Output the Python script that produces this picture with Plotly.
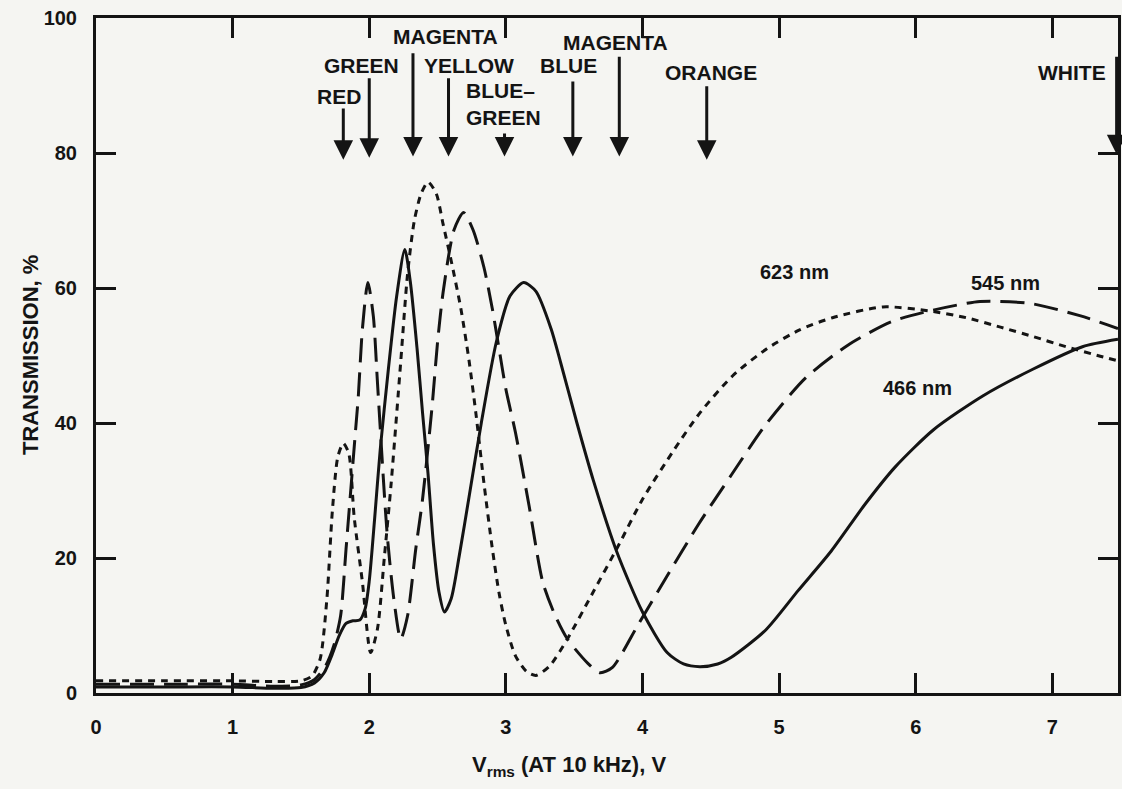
import plotly.graph_objects as go

# ---------------- data ----------------
x_623 = [0, 0.5, 1.0, 1.3, 1.5, 1.58, 1.64, 1.69, 1.73, 1.77, 1.81, 1.85, 1.89, 1.95, 2.01,
         2.06, 2.11, 2.16, 2.23, 2.28, 2.33, 2.38, 2.43, 2.49, 2.54, 2.6, 2.67, 2.73, 2.78,
         2.84, 2.9, 2.95, 3.0, 3.07, 3.15, 3.22, 3.32, 3.45, 3.64, 3.82, 4.0, 4.23, 4.42,
         4.66, 4.91, 5.15, 5.39, 5.76, 6.1, 6.37, 6.62, 6.86, 7.1, 7.35, 7.48]
y_623 = [1.8, 1.8, 1.8, 1.7, 1.8, 2.5, 5, 14, 27, 35, 37, 35.5, 26, 16.4, 6,
         9.5, 20, 31, 49, 62, 70, 74, 75.7, 74, 69.5, 64, 57, 49.3, 41.5,
         31, 21.5, 14.8, 10, 5.5, 3.2, 2.6, 4, 8, 15, 21.7, 28.7, 36, 41.5,
         47, 51, 53.8, 55.6, 57.2, 56.6, 55.6, 54.2, 52.8, 51.3, 49.9, 49.2]

x_545 = [0, 0.5, 1.0, 1.3, 1.5, 1.6, 1.68, 1.74, 1.79, 1.83, 1.9, 1.92, 1.95, 1.99, 2.03,
         2.06, 2.13, 2.18, 2.23, 2.28, 2.34, 2.39, 2.46, 2.5, 2.54, 2.62, 2.69, 2.76, 2.84,
         2.9, 2.95, 3.0, 3.07, 3.17, 3.27, 3.36, 3.45, 3.6, 3.69, 3.78, 3.97, 4.17, 4.41,
         4.65, 4.9, 5.19, 5.5, 5.82, 6.1, 6.47, 6.84, 7.2, 7.48]
y_545 = [1.3, 1.3, 1.3, 1.0, 1.2, 2, 4, 7, 11.4, 21.3, 39, 44, 54, 60.8, 55.8,
         46, 23.8, 13.9, 8, 11.4, 21.3, 28.7, 42.5, 52, 59.3, 68.6, 71.2, 68.6, 63,
         57, 51, 45, 38.6, 27.7, 16.4, 11.5, 8, 4.4, 3.0, 3.8, 10.2, 17, 25,
         32.3, 39.7, 46.6, 51.5, 55, 56.6, 58, 57.7, 55.9, 54]

x_466 = [0, 0.5, 1.0, 1.3, 1.5, 1.6, 1.67, 1.73, 1.78, 1.83, 1.88, 1.93, 1.97, 2.0, 2.04,
         2.08, 2.14, 2.2, 2.26, 2.3, 2.35, 2.39, 2.43, 2.47, 2.51, 2.55, 2.6, 2.66, 2.73,
         2.82, 2.93, 3.03, 3.13, 3.22, 3.33, 3.4, 3.52, 3.64, 3.81, 4.0, 4.18, 4.3, 4.42,
         4.55, 4.65, 4.9, 5.14, 5.38, 5.63, 5.85, 6.13, 6.49, 6.86, 7.22, 7.48]
y_466 = [0.9, 0.9, 0.9, 0.7, 0.8, 1.5, 3, 5.8, 8.5, 10.3, 10.7, 10.8, 12.5, 16.6, 26,
         36, 48, 58.7, 65.7, 61, 51, 41.5, 32.5, 22, 15, 12, 14, 20.5, 29,
         40, 52, 58.8, 60.8, 59.5, 54, 49, 40, 31.5, 21, 12, 6, 4.3, 3.9,
         4.3, 5.3, 9.3, 15.2, 21, 28, 33.5, 39, 44, 48, 51.3, 52.4]

series_names = ["623 nm", "545 nm", "466 nm"]

arrow_labels = ["RED", "GREEN", "MAGENTA", "YELLOW", "BLUE\u2013<br>GREEN", "BLUE",
                "MAGENTA", "ORANGE", "WHITE"]
arrow_x = [1.81, 2.0, 2.32, 2.58, 2.99, 3.49, 3.83, 4.47, 7.47]
arrow_tail_y = [86.8, 91.3, 95.0, 91.3, 83.1, 90.8, 94.5, 90.1, 94.5]
arrow_tip_y = [79.0, 79.3, 79.5, 79.5, 79.5, 79.5, 79.5, 79.0, 79.8]

x_ticks = [0, 1, 2, 3, 4, 5, 6, 7]
y_ticks = [0, 20, 40, 60, 80, 100]

# ---------------- layout positions for text (not data) ----------------
arrow_label_pos = [(1.78, 88.3), (1.94, 92.9), (2.56, 97.2), (2.73, 92.9), (2.98, 87.3),
                   (3.46, 93.0), (3.80, 96.4), (4.50, 91.9), (7.14, 91.9)]
curve_label_pos = [(5.11, 62.4), (6.66, 60.7), (6.01, 45.2)]

INK = "#141414"
BG = "#f5f5f2"
FONT = "Liberation Sans, Arial, sans-serif"

fig = go.Figure()
styles = ["7px,6px", "24px,10px", "solid"]
for name, xs, ys, dash in zip(series_names, [x_623, x_545, x_466], [y_623, y_545, y_466], styles):
    fig.add_trace(go.Scatter(
        x=xs, y=ys, mode="lines", name=name,
        line=dict(color=INK, width=3, shape="spline", smoothing=0.7, dash=dash),
        hoverinfo="skip", showlegend=False,
    ))

annotations = []
for x, ty, hy in zip(arrow_x, arrow_tail_y, arrow_tip_y):
    annotations.append(dict(
        x=x, y=hy, ax=x, ay=ty, xref="x", yref="y", axref="x", ayref="y",
        text="", showarrow=True, arrowhead=2, arrowsize=1.3, arrowwidth=3,
        arrowcolor=INK, standoff=0,
    ))
for lab, (px, py) in zip(arrow_labels, arrow_label_pos):
    annotations.append(dict(
        x=px, y=py, xref="x", yref="y", text=lab, showarrow=False,
        xanchor="center", yanchor="middle", align="left",
        font=dict(family=FONT, size=21, color=INK, weight="bold"),
    ))
for lab, (px, py) in zip(series_names, curve_label_pos):
    annotations.append(dict(
        x=px, y=py, xref="x", yref="y", text=lab, showarrow=False,
        xanchor="center", yanchor="middle",
        font=dict(family=FONT, size=20, color=INK, weight="bold"),
    ))
annotations.append(dict(
    x=0.4624, y=-0.108, xref="paper", yref="paper",
    text="V<sub>rms</sub> (AT 10 kHz), V", showarrow=False,
    xanchor="center", yanchor="middle",
    font=dict(family=FONT, size=22, color=INK, weight="bold"),
))
annotations.append(dict(
    x=-0.064, y=0.5, xref="paper", yref="paper",
    text="TRANSMISSION, %", showarrow=False, textangle=-90,
    xanchor="center", yanchor="middle",
    font=dict(family=FONT, size=22, color=INK, weight="bold"),
))

axis_common = dict(
    showline=True, linewidth=3, linecolor=INK, mirror="ticks",
    ticks="inside", ticklen=20, tickwidth=3, tickcolor=INK,
    showgrid=False, zeroline=False,
    tickfont=dict(family=FONT, size=20, color=INK, weight="bold"),
)

fig.update_layout(
    width=1122, height=789,
    margin=dict(l=96, r=1, t=18, b=96),
    paper_bgcolor=BG, plot_bgcolor=BG,
    xaxis=dict(range=[0, 7.48], tickvals=x_ticks, ticklabelstandoff=14, **axis_common),
    yaxis=dict(range=[0, 100], tickvals=y_ticks, ticklabelstandoff=12, **axis_common),
    annotations=annotations,
    showlegend=False,
)

fig.write_html("out.html")
